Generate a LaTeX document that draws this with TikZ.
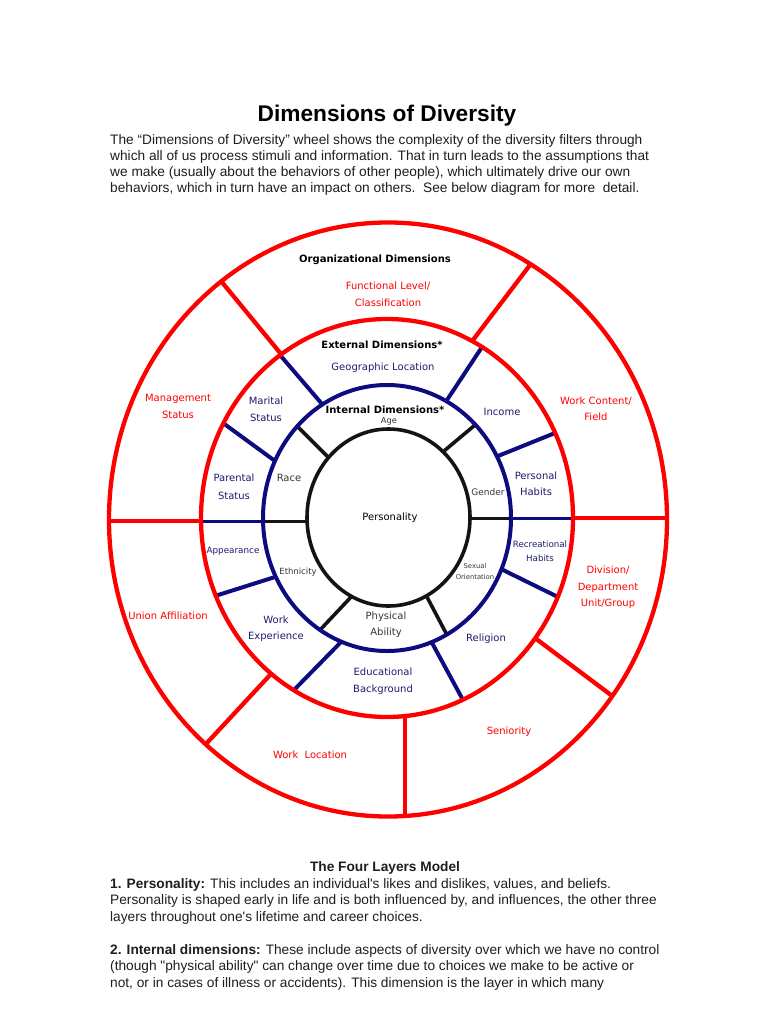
\documentclass[tikz,border=0pt]{standalone}
\usepackage{fontspec}
\setmainfont{Liberation Sans}[Ligatures=TeXOff]
\newfontfamily\wheelfont{DejaVu Sans}
\definecolor{wred}{RGB}{255,0,0}
\definecolor{wnavy}{RGB}{12,12,128}
\definecolor{wblack}{RGB}{20,20,20}
\definecolor{tnavy}{RGB}{28,28,110}
\definecolor{tgray}{RGB}{55,55,55}
\definecolor{bodyc}{RGB}{30,30,30}
\begin{document}
\begin{tikzpicture}[x=1pt,y=-1pt,
  redline/.style={draw=wred,line width=4.3pt},
  blueline/.style={draw=wnavy,line width=4pt},
  blackline/.style={draw=wblack,line width=3.6pt},
  bodytext/.style={anchor=base west,inner sep=0pt,font=\fontsize{13.7}{16}\selectfont,text=bodyc},
  lbl/.style={inner sep=0pt,align=center,font=\wheelfont\fontsize{10}{17}\selectfont},
  redlbl/.style={lbl,text=wred},
  navylbl/.style={lbl,text=tnavy},
  graylbl/.style={lbl,text=tgray},
  hdr/.style={inner sep=0pt,font=\wheelfont\bfseries\fontsize{10}{12}\selectfont,text=black}]
\useasboundingbox[fill=white] (0,0) rectangle (770,1024);

% ---- title and intro text
\node[anchor=base,inner sep=0pt,font=\bfseries\fontsize{22.7}{26}\selectfont] (title) at (387,122) {Dimensions of Diversity};
\node[bodytext] (i1) at (110,145) {The “Dimensions of Diversity” wheel shows the complexity of the diversity filters through};
\node[bodytext] (i2) at (110,161) {which all of us process stimuli and information. That in turn leads to the assumptions that};
\node[bodytext] (i3) at (110,177) {we make (usually about the behaviors of other people), which ultimately drive our own};
\node[bodytext] (i4) at (110,193) {behaviors, which in turn have an impact on others.\ \ See below diagram for more\ \ detail.};

% ---- spokes: organizational ring (red)
\draw[redline] (221,281) -- (281,354);
\draw[redline] (473,340) -- (530,265);
\draw[redline] (573,518) -- (667,518);
\draw[redline] (535,638) -- (611,695);
\draw[redline] (405,717) -- (405,815);
\draw[redline] (270,675) -- (205,745);
\draw[redline] (109,521) -- (201,521);
% ---- spokes: external ring (navy)
\draw[blueline] (280,355) -- (322,404);
\draw[blueline] (482,347) -- (447,400);
\draw[blueline] (223,423) -- (275,461);
\draw[blueline] (555,433) -- (498,456);
\draw[blueline,line width=3pt] (201,521) -- (263,521);
\draw[blueline,line width=3pt] (511,518) -- (573,518);
\draw[blueline] (215,596) -- (275,577);
\draw[blueline] (293,691) -- (341,642);
\draw[blueline] (431,641) -- (463,700);
\draw[blueline] (501,569) -- (558,597);
% ---- spokes: internal ring (black)
\draw[blackline] (298,427) -- (328,457);
\draw[blackline] (475,425) -- (444,451);
\draw[blackline,line width=3pt] (263,521) -- (307,521);
\draw[blackline,line width=3pt] (470,518) -- (511,518);
\draw[blackline] (352,596) -- (320,630);
\draw[blackline] (427,597) -- (447,635);

% ---- rings
\draw[redline] (388,519.5) ellipse [x radius=279pt, y radius=297pt];
\draw[redline] (387,518) ellipse [x radius=186pt, y radius=199pt];
\draw[blueline] (387,518) ellipse [x radius=124pt, y radius=133pt];
\draw[blackline] (388.5,517.5) ellipse [x radius=81.5pt, y radius=88.5pt];

% ---- wheel labels
\node[hdr] (org) at (375,260) {Organizational Dimensions};
\node[redlbl] (func) at (388,294.5) {Functional Level/\\Classification};
\node[hdr] (ext) at (382,345) {External Dimensions*};
\node[navylbl] (geo) at (383,368) {Geographic Location};
\node[redlbl] (mgmt) at (178,406.5) {Management\\Status};
\node[navylbl] (marital) at (266,409.5) {Marital\\Status};
\node[hdr] (int) at (385,410) {Internal Dimensions*};
\node[graylbl,font=\wheelfont\fontsize{8.3}{10}\selectfont] (age) at (389,421) {Age};
\node[navylbl] (income) at (502,412) {Income};
\node[redlbl,font=\wheelfont\fontsize{10}{16}\selectfont] (work) at (596,409) {Work Content/\\Field};
\node[navylbl,font=\wheelfont\fontsize{10}{18}\selectfont] (parent) at (234,487) {Parental\\Status};
\node[graylbl] (race) at (289,478) {Race};
\node[graylbl,font=\wheelfont\fontsize{9}{11}\selectfont] (gender) at (488,492) {Gender};
\node[navylbl,font=\wheelfont\fontsize{10}{16}\selectfont] (habits) at (536,484) {Personal\\Habits};
\node[lbl,text=black] (pers) at (390,518) {Personality};
\node[navylbl,font=\wheelfont\fontsize{8.8}{11}\selectfont] (appear) at (233,551) {Appearance};
\node[graylbl,font=\wheelfont\fontsize{8.5}{11}\selectfont] (eth) at (298,572) {Ethnicity};
\node[navylbl,font=\wheelfont\fontsize{8.7}{14}\selectfont] (recr) at (540,551) {Recreational\\Habits};
\node[graylbl,font=\wheelfont\fontsize{6.8}{11}\selectfont] (sex) at (475,571.5) {Sexual\\Orientation};
\node[redlbl,font=\wheelfont\fontsize{10}{16.5}\selectfont] (div) at (608,587.5) {Division/\\Department\\Unit/Group};
\node[redlbl] (union) at (168,616) {Union Affiliation};
\node[navylbl,font=\wheelfont\fontsize{10}{16}\selectfont] (wexp) at (276,629) {Work\\Experience};
\node[graylbl,font=\wheelfont\fontsize{10}{16}\selectfont] (phys) at (386,625) {Physical\\Ability};
\node[navylbl] (rel) at (486,639) {Religion};
\node[navylbl] (edu) at (383,681.5) {Educational\\Background};
\node[redlbl] (sen) at (509,732) {Seniority};
\node[redlbl] (wloc) at (310,755) {Work\ \ Location};

% ---- bottom text
\node[anchor=base,inner sep=0pt,font=\bfseries\fontsize{13.7}{16}\selectfont,text=bodyc] (four) at (385,871) {The Four Layers Model};
\node[bodytext] (b1) at (110,888) {\textbf{1. Personality:} This includes an individual's likes and dislikes, values, and beliefs.};
\node[bodytext] (b2) at (110,904.5) {Personality is shaped early in life and is both influenced by, and influences, the other three};
\node[bodytext] (b3) at (110,921) {layers throughout one's lifetime and career choices.};
\node[bodytext] (b4) at (110,954) {\textbf{2. Internal dimensions:} These include aspects of diversity over which we have no control};
\node[bodytext] (b5) at (110,970.5) {(though "physical ability" can change over time due to choices we make to be active or};
\node[bodytext] (b6) at (110,987) {not, or in cases of illness or accidents). This dimension is the layer in which many};
\end{tikzpicture}
\end{document}
